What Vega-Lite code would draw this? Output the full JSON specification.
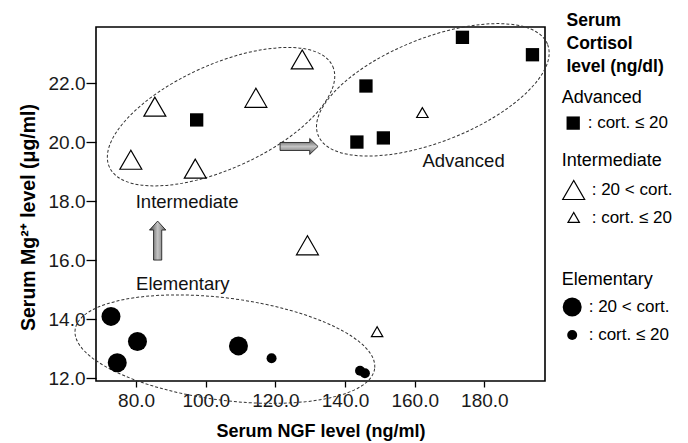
{
  "$schema": "https://vega.github.io/schema/vega-lite/v6.json",
  "autosize": {"type": "none"},
  "width": 449,
  "height": 354,
  "padding": {"left": 96, "top": 27, "right": 143, "bottom": 62},
  "background": "white",
  "config": {
    "font": "Liberation Sans",
    "view": {"stroke": "black", "strokeWidth": 1.6},
    "axis": {"grid": false, "domain": false, "ticks": true, "tickColor": "black", "tickWidth": 1.3, "labelColor": "#1a1a1a", "labelFontSize": 19, "labelFont": "Liberation Sans", "titleFont": "Liberation Sans", "titleFontSize": 18, "titleFontWeight": "bold", "titleColor": "black"},
    "legend": {"titleFont": "Liberation Sans", "titleFontSize": 18, "titleFontWeight": "normal", "titleColor": "black", "labelFont": "Liberation Sans", "labelFontSize": 17, "labelColor": "black", "padding": 0, "titlePadding": 8, "rowPadding": 6, "labelOffset": 6, "symbolStrokeWidth": 1.2, "orient": "none"}
  },
  "title": {"text": ["Serum", "Cortisol", "level (ng/dl)"], "anchor": "start", "frame": "group", "orient": "top", "baseline": "top", "offset": 0, "dx": 470.5, "dy": 54, "fontSize": 17.5, "fontWeight": "bold", "lineHeight": 23, "color": "black", "font": "Liberation Sans"},
  "datasets": {
    "points": [
      {"ngf": 97.4, "mg": 20.75, "stage": "Advanced", "cortisol": "cort. ≤ 20"},
      {"ngf": 146.0, "mg": 21.9, "stage": "Advanced", "cortisol": "cort. ≤ 20"},
      {"ngf": 143.4, "mg": 20.0, "stage": "Advanced", "cortisol": "cort. ≤ 20"},
      {"ngf": 151.0, "mg": 20.14, "stage": "Advanced", "cortisol": "cort. ≤ 20"},
      {"ngf": 173.7, "mg": 23.55, "stage": "Advanced", "cortisol": "cort. ≤ 20"},
      {"ngf": 193.8, "mg": 22.96, "stage": "Advanced", "cortisol": "cort. ≤ 20"},
      {"ngf": 85.4, "mg": 21.2, "stage": "Intermediate", "cortisol": "20 < cort."},
      {"ngf": 78.5, "mg": 19.4, "stage": "Intermediate", "cortisol": "20 < cort."},
      {"ngf": 97.0, "mg": 19.1, "stage": "Intermediate", "cortisol": "20 < cort."},
      {"ngf": 114.4, "mg": 21.5, "stage": "Intermediate", "cortisol": "20 < cort."},
      {"ngf": 127.7, "mg": 22.8, "stage": "Intermediate", "cortisol": "20 < cort."},
      {"ngf": 129.2, "mg": 16.5, "stage": "Intermediate", "cortisol": "20 < cort."},
      {"ngf": 162.2, "mg": 21.0, "stage": "Intermediate", "cortisol": "cort. ≤ 20"},
      {"ngf": 149.2, "mg": 13.57, "stage": "Intermediate", "cortisol": "cort. ≤ 20"},
      {"ngf": 72.8, "mg": 14.09, "stage": "Elementary", "cortisol": "20 < cort."},
      {"ngf": 80.4, "mg": 13.24, "stage": "Elementary", "cortisol": "20 < cort."},
      {"ngf": 74.6, "mg": 12.52, "stage": "Elementary", "cortisol": "20 < cort."},
      {"ngf": 109.4, "mg": 13.09, "stage": "Elementary", "cortisol": "20 < cort."},
      {"ngf": 118.9, "mg": 12.67, "stage": "Elementary", "cortisol": "cort. ≤ 20"},
      {"ngf": 144.3, "mg": 12.25, "stage": "Elementary", "cortisol": "cort. ≤ 20"},
      {"ngf": 145.7, "mg": 12.16, "stage": "Elementary", "cortisol": "cort. ≤ 20"}
    ],
    "ellipses": [
      {"ngf": 104.4, "mg": 20.86, "stage": "Intermediate"},
      {"ngf": 165.2, "mg": 21.77, "stage": "Advanced"},
      {"ngf": 105.5, "mg": 12.98, "stage": "Elementary"}
    ],
    "arrows": [
      {"ngf": 126.8, "mg": 19.85, "dir": "right"},
      {"ngf": 86.2, "mg": 16.66, "dir": "up"}
    ],
    "labels": [
      {"ngf": 79.9, "mg": 17.98, "label": "Intermediate"},
      {"ngf": 162.2, "mg": 19.37, "label": "Advanced"},
      {"ngf": 80.0, "mg": 15.19, "label": "Elementary"}
    ]
  },
  "encoding": {
    "x": {"field": "ngf", "type": "quantitative", "scale": {"domain": [68.5, 197.4], "nice": false, "zero": false}, "axis": {"title": "Serum NGF level (ng/ml)", "values": [80, 100, 120, 140, 160, 180], "format": ".1f", "tickSize": 6, "labelPadding": 4, "titlePadding": 12, "labelFlush": false}},
    "y": {"field": "mg", "type": "quantitative", "scale": {"domain": [11.9, 23.9], "nice": false, "zero": false}, "axis": {"title": "Serum Mg²⁺ level (μg/ml)", "values": [12, 14, 16, 18, 20, 22], "format": ".1f", "tickSize": 10, "labelPadding": 1, "titlePadding": 10, "titleFontSize": 19.5, "titleY": 190}}
  },
  "layer": [
    {"data": {"name": "ellipses"}, "transform": [{"filter": "datum.stage === 'Intermediate'"}],
     "mark": {"type": "point", "shape": "M1,0C1,0.2347,0.5523,0.425,0,0.425C-0.5523,0.425,-1,0.2347,-1,0C-1,-0.2347,-0.5523,-0.425,0,-0.425C0.5523,-0.425,1,-0.2347,1,0Z", "size": 60025, "angle": 335.7, "filled": false, "color": "#333", "strokeWidth": 1, "strokeDash": [3, 2], "opacity": 1}},
    {"data": {"name": "ellipses"}, "transform": [{"filter": "datum.stage === 'Advanced'"}],
     "mark": {"type": "point", "shape": "M1,0C1,0.232,0.5523,0.42,0,0.42C-0.5523,0.42,-1,0.232,-1,0C-1,-0.232,-0.5523,-0.42,0,-0.42C0.5523,-0.42,1,-0.232,1,0Z", "size": 60900, "angle": 338.4, "filled": false, "color": "#333", "strokeWidth": 1, "strokeDash": [3, 2], "opacity": 1}},
    {"data": {"name": "ellipses"}, "transform": [{"filter": "datum.stage === 'Elementary'"}],
     "mark": {"type": "point", "shape": "M1,0C1,0.1867,0.5523,0.338,0,0.338C-0.5523,0.338,-1,0.1867,-1,0C-1,-0.1867,-0.5523,-0.338,0,-0.338C0.5523,-0.338,1,-0.1867,1,0Z", "size": 91204, "angle": 7.4, "filled": false, "color": "#333", "strokeWidth": 1, "strokeDash": [3, 2], "opacity": 1}},
    {"data": {"name": "arrows"}, "transform": [{"filter": "datum.dir === 'right'"}],
     "mark": {"type": "point", "shape": "M-1,-0.21L0.56,-0.21L0.56,-0.42L1,0L0.56,0.42L0.56,0.21L-1,0.21Z", "size": 1444, "angle": 0, "filled": true, "opacity": 1, "stroke": "#111", "strokeWidth": 0.8,
       "fill": {"gradient": "linear", "x1": 0, "y1": 0, "x2": 0, "y2": 1, "stops": [{"offset": 0, "color": "#444444"}, {"offset": 0.5, "color": "#c4c4c4"}, {"offset": 1, "color": "#666666"}]}}},
    {"data": {"name": "arrows"}, "transform": [{"filter": "datum.dir === 'up'"}],
     "mark": {"type": "point", "shape": "M-1,-0.21L0.54,-0.21L0.54,-0.42L1,0L0.54,0.42L0.54,0.21L-1,0.21Z", "size": 1521, "angle": 270, "filled": true, "opacity": 1, "stroke": "#111", "strokeWidth": 0.8,
       "fill": {"gradient": "linear", "x1": 0, "y1": 0, "x2": 0, "y2": 1, "stops": [{"offset": 0, "color": "#444444"}, {"offset": 0.5, "color": "#c4c4c4"}, {"offset": 1, "color": "#666666"}]}}},
    {"data": {"name": "labels"},
     "mark": {"type": "text", "align": "left", "baseline": "middle", "fontSize": 18.5, "font": "Liberation Sans", "color": "#111"},
     "encoding": {"text": {"field": "label"}}},
    {"data": {"name": "points"}, "transform": [{"filter": "datum.stage === 'Advanced'"}],
     "mark": {"type": "square", "color": "black", "opacity": 1},
     "encoding": {"size": {"field": "cortisol", "type": "ordinal", "scale": {"type": "point", "domain": ["cort. ≤ 20"], "range": [177, 177]},
       "legend": {"title": "Advanced", "orient": "none", "legendX": 465.7, "legendY": 61.6, "labelExpr": "': ' + datum.label", "symbolType": "square", "symbolFillColor": "black", "symbolStrokeColor": "black", "symbolOffset": 3}}}},
    {"data": {"name": "points"}, "transform": [{"filter": "datum.stage === 'Intermediate'"}],
     "mark": {"type": "point", "shape": "triangle-up", "filled": true, "fill": "white", "stroke": "black", "strokeWidth": 1.2, "opacity": 1},
     "encoding": {"size": {"field": "cortisol", "type": "ordinal", "scale": {"type": "point", "domain": ["20 < cort.", "cort. ≤ 20"], "range": [480, 130]},
       "legend": {"title": "Intermediate", "orient": "none", "legendX": 465.7, "legendY": 125, "labelExpr": "': ' + datum.label", "symbolType": "triangle-up",
         "encode": {"symbols": {"update": {"fill": {"value": "white"}, "stroke": {"value": "black"}, "strokeWidth": {"value": 1.2}, "opacity": {"value": 1}, "size": {"signal": "datum.value === '20 < cort.' ? 480 : 70"}}}}}}}},
    {"data": {"name": "points"}, "transform": [{"filter": "datum.stage === 'Elementary'"}],
     "mark": {"type": "circle", "color": "black", "opacity": 1},
     "encoding": {"size": {"field": "cortisol", "type": "ordinal", "scale": {"type": "point", "domain": ["20 < cort.", "cort. ≤ 20"], "range": [361, 100]},
       "legend": {"title": "Elementary", "orient": "none", "legendX": 465.7, "legendY": 243.5, "labelExpr": "': ' + datum.label", "symbolType": "circle", "symbolFillColor": "black", "symbolStrokeColor": "black"}}}}
  ],
  "resolve": {"scale": {"size": "independent"}, "legend": {"size": "independent"}}
}
